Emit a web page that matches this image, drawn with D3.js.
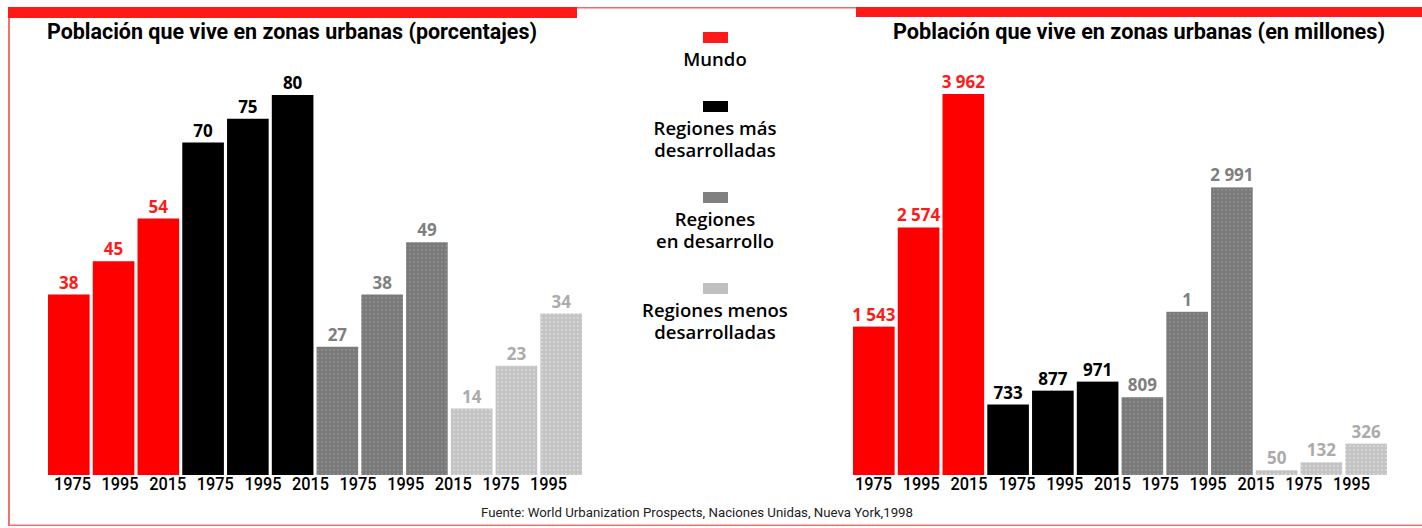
<!DOCTYPE html>
<html><head><meta charset="utf-8">
<script src="https://cdn.jsdelivr.net/npm/d3@7"></script>
<style>html,body{margin:0;padding:0;background:#fff;}svg{display:block;}</style>
</head><body>
<svg id="c" width="1422" height="528"></svg>
<script>
// ---- data ----
const groups = ["Mundo", "Regiones más desarrolladas", "Regiones en desarrollo", "Regiones menos desarrolladas"];
const years = ["1975", "1995", "2015"];
const pctValues = [38, 45, 54, 70, 75, 80, 27, 38, 49, 14, 23, 34];
const pctLabels = ["38", "45", "54", "70", "75", "80", "27", "38", "49", "14", "23", "34"];
const milValues = [1543, 2574, 3962, 733, 877, 971, 809, 1697, 2991, 50, 132, 326];
const milLabels = ["1 543", "2 574", "3 962", "733", "877", "971", "809", "1", "2 991", "50", "132", "326"];
const tickLabels = ["1975", "1995", "2015", "1975", "1995", "2015", "1975", "1995", "2015", "1975", "1995"];
const legendLines = [["Mundo"], ["Regiones más", "desarrolladas"], ["Regiones", "en desarrollo"], ["Regiones menos", "desarrolladas"]];
const titles = ["Población que vive en zonas urbanas (porcentajes)", "Población que vive en zonas urbanas (en millones)"];
const source = "Fuente: World Urbanization Prospects, Naciones Unidas, Nueva York,1998";

const fills = ["#ff0000", "#000000", "url(#pDark)", "url(#pLight)"];
const swatch = ["#ff1a1a", "#000000", "#808080", "#c0c0c0"];
const labelColors = ["#ff1a1a", "#000000", "#7f7f7f", "#ababab"];

const svg = d3.select("#c");
const defs = svg.append("defs");
function pattern(id, base, dot) {
  const p = defs.append("pattern").attr("id", id).attr("patternUnits", "userSpaceOnUse")
    .attr("width", 4).attr("height", 4);
  p.append("rect").attr("width", 4).attr("height", 4).attr("fill", base);
  p.append("rect").attr("x", 1).attr("y", 1).attr("width", 2).attr("height", 2).attr("fill", dot);
}
pattern("pDark", "#7a7a7a", "#8a8a8a");
pattern("pLight", "#c4c4c4", "#d4d4d4");

// ---- frame ----
svg.append("rect").attr("x", 8).attr("y", 7).attr("width", 569).attr("height", 11).attr("fill", "#ff1a1a");
svg.append("rect").attr("x", 577).attr("y", 7).attr("width", 279).attr("height", 1.5).attr("fill", "#f26b6b");
svg.append("rect").attr("x", 856).attr("y", 7).attr("width", 566).attr("height", 10).attr("fill", "#ff1a1a");
svg.append("rect").attr("x", 8).attr("y", 18).attr("width", 2).attr("height", 508).attr("fill", "#f47070");
svg.append("rect").attr("x", 8).attr("y", 524.5).attr("width", 1414).attr("height", 1.5).attr("fill", "#f47070");

const narrow = "Roboto, 'Liberation Sans', sans-serif";

function chart(x0, x1, values, labels, maxV, topY, title, titleStart, titleEnd, tick0, tick1) {
  const idx = d3.range(values.length);
  const x = d3.scaleBand().domain(idx).range([x0, x1]).paddingInner(0.07).paddingOuter(0);
  const y = d3.scaleLinear().domain([0, maxV]).range([475, topY]);
  const g = svg.append("g");
  g.selectAll("rect.bar").data(idx).join("rect").attr("class", "bar")
    .attr("x", i => x(i)).attr("width", x.bandwidth())
    .attr("y", i => y(values[i])).attr("height", i => y(0) - y(values[i]))
    .attr("fill", i => fills[Math.floor(i / 3)]);
  g.selectAll("text.val").data(idx).join("text").attr("class", "val")
    .attr("x", i => x(i) + x.bandwidth() / 2).attr("y", i => y(values[i]) - 6)
    .attr("text-anchor", "middle")
    .attr("font-family", "'Open Sans', sans-serif").attr("font-weight", 700).attr("font-size", 17)
    .attr("fill", i => labelColors[Math.floor(i / 3)])
    .text(i => labels[i]);
  // x axis tick labels (evenly spaced row under the bars)
  const xt = d3.scalePoint().domain(d3.range(tickLabels.length)).range([tick0, tick1]);
  const axis = d3.axisBottom(xt).tickSize(0).tickPadding(0).tickFormat(i => tickLabels[i]);
  const ax = g.append("g").attr("transform", "translate(0,475)").call(axis);
  ax.select(".domain").remove();
  ax.selectAll("text").attr("dy", null).attr("y", 15)
    .attr("font-family", narrow).attr("font-weight", 500).attr("font-size", 18).attr("fill", "#000")
    .attr("textLength", 37).attr("lengthAdjust", "spacingAndGlyphs");
  svg.append("text").attr("x", titleStart).attr("y", 39)
    .attr("font-family", narrow).attr("font-weight", 700).attr("font-size", 22)
    .attr("textLength", titleEnd - titleStart).attr("lengthAdjust", "spacingAndGlyphs")
    .attr("fill", "#000").text(title);
}
chart(48, 582, pctValues, pctLabels, 80, 95, titles[0], 47, 537, 72, 548);
chart(853, 1387, milValues, milLabels, 3962, 94, titles[1], 893, 1385, 873, 1351);

// ---- legend ----
const legendY = [32, 101, 192, 283];
const lg = svg.append("g");
groups.forEach((gName, k) => {
  lg.append("rect").attr("x", 703).attr("y", legendY[k]).attr("width", 25).attr("height", 11).attr("fill", swatch[k]);
  const t = lg.append("text").attr("x", 715).attr("y", legendY[k] + 34)
    .attr("text-anchor", "middle").attr("font-family", "'Open Sans', sans-serif").attr("font-weight", 600)
    .attr("font-size", 18.5).attr("fill", "#000");
  legendLines[k].forEach((line, j) => {
    t.append("tspan").attr("x", 715).attr("dy", j === 0 ? 0 : 21.5).text(line);
  });
});

// ---- source ----
svg.append("text").attr("x", 481).attr("y", 517)
  .attr("font-family", narrow).attr("font-size", 13)
  .attr("textLength", 432).attr("lengthAdjust", "spacingAndGlyphs")
  .attr("fill", "#222").text(source);
</script>
</body></html>
